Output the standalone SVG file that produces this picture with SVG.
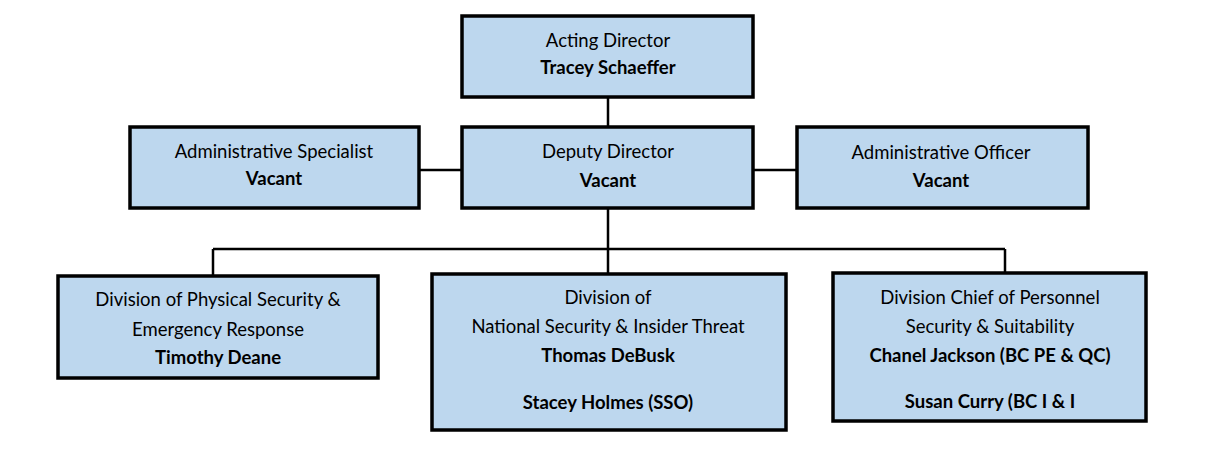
<svg xmlns="http://www.w3.org/2000/svg" width="1216" height="450" viewBox="0 0 1216 450">
<style>
.box{fill:#BDD7EE;stroke:#000;stroke-width:3.5}
.ln{stroke:#000;stroke-width:2.5;fill:none}
text{font-family:Lato,"Open Sans","Liberation Sans",sans-serif;font-size:18.5px;text-anchor:middle;fill:#000}
.b{font-weight:bold}
</style>
<rect width="1216" height="450" fill="#fff"/>
<g id="connectors">
<path class="ln" d="M608 97V127M419 170H462M753 170H797M608 208V274M213 249H1005M213 249V276M1005 249V273"/>
</g>
<g id="acting"><rect class="box" x="462" y="16" width="291" height="81"/><text x="608" y="47">Acting Director</text><text class="b" x="608" y="74">Tracey Schaeffer</text></g>
<g id="deputy"><rect class="box" x="462" y="127" width="291" height="81"/><text x="608" y="158">Deputy Director</text><text class="b" x="608" y="187">Vacant</text></g>
<g id="adminspec"><rect class="box" x="130" y="127" width="289" height="81"/><text x="274" y="158">Administrative Specialist</text><text class="b" x="274" y="185">Vacant</text></g>
<g id="adminoff"><rect class="box" x="797" y="127" width="291" height="81"/><text x="941" y="159">Administrative Officer</text><text class="b" x="941" y="187">Vacant</text></g>
<g id="physical"><rect class="box" x="58" y="276" width="320" height="102"/><text x="218" y="306">Division of Physical Security &amp;</text><text x="218" y="336">Emergency Response</text><text class="b" x="218" y="364">Timothy Deane</text></g>
<g id="national"><rect class="box" x="432" y="274" width="354" height="156"/><text x="608" y="304">Division of</text><text x="608" y="333">National Security &amp; Insider Threat</text><text class="b" x="608" y="362">Thomas DeBusk</text><text class="b" x="608" y="409">Stacey Holmes (SSO)</text></g>
<g id="personnel"><rect class="box" x="833" y="273" width="313" height="148"/><text x="990" y="304">Division Chief of Personnel</text><text x="990" y="333">Security &amp; Suitability</text><text class="b" x="990" y="362">Chanel Jackson (BC PE &amp; QC)</text><text class="b" x="990" y="408">Susan Curry (BC I &amp; I</text></g>
</svg>
